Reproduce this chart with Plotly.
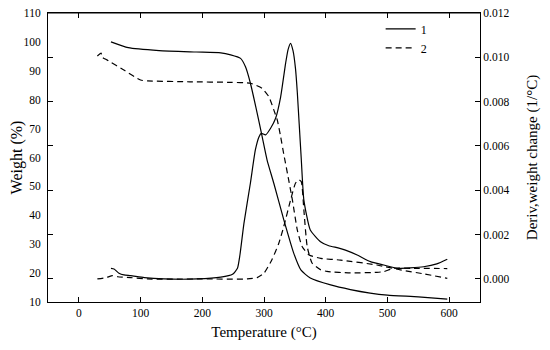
import plotly.graph_objects as go

# ---- data ----
tg1_t = [52, 80, 130, 190, 230, 246, 262, 270, 278, 289, 297, 305, 316, 332, 348, 360, 375, 408, 440, 472, 500, 550, 597]
tg1_w = [100, 98, 97, 96.5, 96.2, 95.5, 94.3, 91.4, 85.7, 75.3, 67.2, 59.1, 51, 38.5, 27, 21, 18.3, 15.9, 14.3, 13.1, 12.4, 11.8, 11]

tg2_t = [30, 36, 38, 46, 75, 100, 111, 180, 246, 278, 297, 308, 316, 321.5, 327, 332, 338, 346, 354, 362, 373, 392, 424, 483, 521, 560, 597]
tg2_w = [95.1, 96.1, 94.7, 93.7, 90.0, 86.8, 86.5, 86.2, 86.0, 85.7, 83.9, 81, 76.4, 73, 67.2, 61.2, 54.5, 45.3, 34.9, 29.1, 26.3, 25.1, 24.5, 22.8, 21.1, 19.7, 18.2]

dtg1_t = [52, 57, 65, 73, 84, 106, 138, 192, 230, 249, 257, 261, 267.5, 278, 286, 292, 295.6, 302.6, 310.7, 318.8, 327, 335, 339, 343, 347, 351, 354, 357, 360.4, 364.6, 375, 391.6, 405, 420, 432, 451, 472.5, 494, 515.7, 537, 558.7, 580, 597]
dtg1_d = [0.00048, 0.00045, 0.00026, 0.00018, 0.00015, 0.00006, 0.0, 0.0, 0.00008, 0.00021, 0.00048, 0.00108, 0.00251, 0.00433, 0.00582, 0.00642, 0.00657, 0.00650, 0.00680, 0.00725, 0.00822, 0.00973, 0.01035, 0.01063, 0.01030, 0.00950, 0.00840, 0.00700, 0.00540, 0.00356, 0.00221, 0.00168, 0.00150, 0.00140, 0.00130, 0.00108, 0.00078, 0.00063, 0.00048, 0.00050, 0.00055, 0.00068, 0.00089]

dtg2_t = [30, 44, 54.5, 63, 84, 111, 200, 273, 289, 300, 313, 324, 332, 343, 351, 356.5, 360.4, 364.6, 370, 378, 392, 402, 440, 483, 494, 510, 537, 597]
dtg2_d = [0.0, 0.00006, 0.00015, 0.00010, 0.00006, 0.0, 0.0, 0.0, 0.00006, 0.00026, 0.00088, 0.00161, 0.00236, 0.00356, 0.00432, 0.00447, 0.00439, 0.00311, 0.00146, 0.00071, 0.00041, 0.00034, 0.00027, 0.00030, 0.00033, 0.00048, 0.00048, 0.00047]

x_ticks = [0, 100, 200, 300, 400, 500, 600]
w_ticks = [10, 20, 30, 40, 50, 60, 70, 80, 90, 100, 110]
d_ticks = [0.0, 0.002, 0.004, 0.006, 0.008, 0.010, 0.012]
x_range = [-50, 650]

FONT = "Liberation Serif"
DASH = "6px,4px"
LW = 1.2
SPL = dict(shape="spline", smoothing=0.5)

fig = go.Figure()
fig.add_trace(go.Scatter(x=tg1_t, y=tg1_w, mode="lines", name="1", legendgroup="1",
                         line=dict(color="black", width=LW, **SPL)))
fig.add_trace(go.Scatter(x=tg2_t, y=tg2_w, mode="lines", name="2", legendgroup="2",
                         line=dict(color="black", width=LW, dash=DASH, **SPL)))
fig.add_trace(go.Scatter(x=dtg1_t, y=dtg1_d, mode="lines", name="1", legendgroup="1", showlegend=False,
                         yaxis="y2", line=dict(color="black", width=LW, **SPL)))
fig.add_trace(go.Scatter(x=dtg2_t, y=dtg2_d, mode="lines", name="2", legendgroup="2", showlegend=False,
                         yaxis="y2", line=dict(color="black", width=LW, dash=DASH, **SPL)))

axis_common = dict(showline=True, linecolor="black", linewidth=1, showgrid=False, zeroline=False,
                   automargin=False, ticklabeloverflow="allow",
                   tickfont=dict(family=FONT, size=11.5, color="black"))

# the page body has an 8px margin, so the figure is drawn 8px smaller and the margins offset
fig.update_layout(
    width=542, height=342,
    margin=dict(l=40, r=70, t=5, b=48, autoexpand=False),
    paper_bgcolor="white", plot_bgcolor="white",
    font=dict(family=FONT, color="black"),
    xaxis=dict(range=x_range, tickvals=x_ticks, ticks="inside", ticklen=5, tickcolor="black",
               mirror="ticks",
               title=dict(text="Temperature (°C)", font=dict(family=FONT, size=15), standoff=8),
               **axis_common),
    yaxis=dict(range=[10, 110], tickvals=w_ticks, ticks="", mirror=False, ticklabelstandoff=4,
               title=dict(text="Weight (%)", font=dict(family=FONT, size=16), standoff=6),
               **axis_common),
    yaxis2=dict(range=[-0.00104, 0.012], tickvals=d_ticks, tickformat=".3f", overlaying="y", side="right",
                ticks="inside", ticklen=5, tickcolor="black", mirror="ticks",
                title=dict(text="Deriv,weight change (1/°C)", font=dict(family=FONT, size=15), standoff=18),
                **axis_common),
    legend=dict(x=0.77, y=0.995, xanchor="left", yanchor="top", bgcolor="rgba(0,0,0,0)",
                font=dict(family=FONT, size=12), tracegroupgap=0),
    showlegend=True,
)
fig.add_shape(type="line", xref="paper", yref="paper", x0=0, x1=1, y0=1, y1=1,
              line=dict(color="black", width=1))

fig.write_html("out.html")
